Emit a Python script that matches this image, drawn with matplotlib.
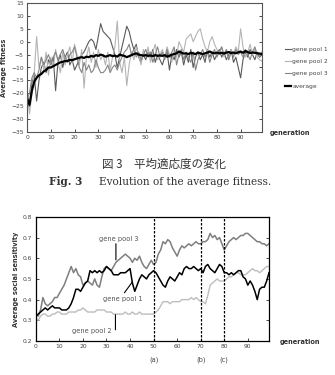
import numpy as np
import matplotlib
matplotlib.use("Agg")
import matplotlib.pyplot as plt
import matplotlib.transforms as mtransforms

# ---- Fig. 3 data: average fitness per generation ----
fit_pool1 = [
    -20, -25, -16, -13, -23, -15, -10, -8, -12, -7,
    -9, -6, -19, -8, -5, -10, -6, -4, -9, -7,
    -11, -9, -7, -5, -4, -2, 0, 1, 0, -3,
    2, 7, 4, 3, 2, 1, -2, -5, -10, -6,
    -2, 2, 6, 4, 0, -3, -1, -6, -8, -5,
    -7, -4, -6, -3, -8, -5, -7, -9, -6, -4,
    -11, -5, -7, -3, -6, -4, -9, -5, -8, -3,
    -10, -6, -4, -7, -5, -8, -3, -6, -4, -7,
    -5, -3, -6, -4, -7, -5, -3, -8, -6, -10,
    -14, -7, -4, -6, -3, -5, -7, -4, -6, -5,
]
fit_pool2 = [
    -19, -28, -20, -12, 2, -10, -6, -11, -4, -13,
    -6, -10, -3, -8, -12, -4, -9, -5, -2, -8,
    -1, -5, -9, -3, -18, -6, -2, -8, -4, -10,
    -3, -7, -5, -9, -4, -11, -6, -2, 8, -8,
    -12, -6, -17, -9, -4, -7, -2, -5, -9, -3,
    -6, -2, -8, -4, -1, -7, -5, -3, -6, -2,
    -5, -8, -3, -6, 0, -2, -4, 1, 2, 3,
    0, 2, 4, 5, 1, -2, -4, 0, 2, -1,
    -3, -5, -2, -6, -4, -7, -3, -5, -2, -4,
    5, -2, -6, -4, -1, -5, -3, -6, -7, -7.5,
]
fit_pool3 = [
    -22, -20, -14, -12, -14, -11, -6, -9, -7, -5,
    -8, -6, -4, -7, -5, -3, -6, -8, -5, -4,
    -2, -6, -10, -12, -8, -11, -9, -12, -11, -7,
    -10, -12, -12, -11, -9, -12, -10, -9, -11, -8,
    -6, -4, -3, -1, -5, -3, -6, -4, -7, -5,
    -3, -6, -4, -8, -5, -2, -6, -4, -7, -3,
    -6, -4, -2, -9, -5, -3, -7, -4, -6, -8,
    -4, -11, -7, -5, -3, -6, -4, -8, -5, -3,
    -6, -4, -2, -5, -3, -7, -4, -6, -3, -5,
    -4, -6, -3, -5, -7, -4, -2, -5, -6, -4,
]
fit_avg = [
    -22, -24.5, -19, -15.5, -14, -13, -12.5, -11.5, -11, -10,
    -10, -9.5, -9, -8.5, -8, -7.8, -7.5, -7.5, -7, -7.2,
    -6.8, -6.5, -6.2, -6, -6.3, -5.8, -6, -5.5, -5.8, -5.2,
    -5.5, -5, -5.3, -5.8, -5.5, -5.2, -5.6, -5.4, -5.8, -5,
    -5.3, -5.5, -6, -5.6, -5.2, -4.8, -4.5, -5, -5.2, -5.4,
    -5.2, -5.5, -5.3, -5.6, -5.2, -5.5, -5.3, -5.5, -5.2, -5.8,
    -5.5, -5, -4.8, -4.5, -3.8, -4.2, -4.6, -4.5, -4.8, -4.3,
    -4.5, -4.8, -4.2, -4.5, -4.8, -4.5, -4.2, -3.8, -4.3, -4.5,
    -4.2, -4.5, -4.3, -4.6, -4.2, -4, -4.4, -4.2, -4.5, -4.1,
    -3.8, -4.3, -3.6, -4, -4.4, -4.2, -4.3, -4.5, -4.6, -4.8,
]

# ---- Fig. 4 data: average social sensitivity ----
sens_pool1 = [
    .32, .33, .34, .35, .36, .35, .36, .37, .36, .36,
    .36, .35, .35, .35, .36, .38, .41, .45, .45, .44,
    .46, .48, .49, .54, .53, .54, .53, .54, .53, .54,
    .56, .55, .54, .52, .52, .52, .53, .53, .53, .54,
    .55, .48, .44, .47, .50, .52, .51, .50, .52, .53,
    .54, .53, .51, .49, .47, .46, .49, .51, .50, .49,
    .51, .53, .52, .55, .56, .55, .55, .56, .55, .54,
    .55, .53, .56, .57, .55, .54, .53, .55, .57, .56,
    .53, .53, .52, .53, .52, .53, .54, .54, .51, .50,
    .47, .49, .47, .44, .40, .45, .46, .46, .49, .53,
]
sens_pool2 = [
    .31, .30, .32, .33, .33, .32, .32, .33, .33, .34,
    .34, .33, .33, .33, .34, .34, .34, .34, .35, .35,
    .36, .35, .34, .34, .34, .34, .35, .35, .35, .35,
    .34, .34, .34, .33, .33, .33, .33, .33, .34, .33,
    .33, .34, .33, .33, .34, .33, .33, .33, .33, .33,
    .33, .34, .35, .37, .39, .39, .39, .38, .39, .39,
    .39, .39, .40, .40, .40, .40, .41, .40, .41, .40,
    .39, .39, .38, .42, .47, .48, .49, .50, .49, .49,
    .49, .50, .51, .51, .52, .53, .53, .52, .52, .52,
    .53, .54, .55, .54, .54, .53, .54, .55, .56, .56,
]
sens_pool3 = [
    .33, .32, .35, .41, .38, .37, .38, .39, .41, .41,
    .43, .45, .47, .50, .53, .56, .53, .55, .52, .51,
    .47, .48, .49, .48, .47, .50, .47, .46, .51, .55,
    .56, .55, .54, .56, .58, .59, .60, .61, .62, .61,
    .60, .58, .60, .59, .61, .58, .56, .55, .57, .59,
    .57, .58, .62, .64, .68, .67, .69, .68, .65, .63,
    .61, .64, .66, .65, .66, .67, .66, .67, .68, .67,
    .67, .68, .68, .69, .72, .70, .71, .69, .70, .67,
    .64, .66, .68, .69, .70, .69, .70, .71, .71, .72,
    .72, .71, .70, .69, .68, .68, .67, .67, .66, .67,
]
phase_gens = [50, 70, 80]
phase_labels = ["(a)", "(b)", "(c)"]

gens = np.arange(len(fit_avg))
tick_kw = dict(labelsize=4.3, labelcolor="#444444", direction="in",
               length=2, width=0.5, pad=2.5)

fig = plt.figure(figsize=(3.35, 3.75), dpi=100)

# ---------------- top chart ----------------
ax1 = fig.add_axes([0.081, 0.648, 0.701, 0.344])
ax1.plot(gens, fit_pool1, color="#5a5a5a", lw=0.8, label="gene pool 1")
ax1.plot(gens, fit_pool2, color="#b4b4b4", lw=0.8, label="gene pool 2")
ax1.plot(gens, fit_pool3, color="#858585", lw=0.8, label="gene pool 3")
ax1.plot(gens, fit_avg, color="black", lw=1.6, label="average")
ax1.set_xlim(0, 99)
ax1.set_ylim(-35, 15)
ax1.set_xticks(range(0, 100, 10))
ax1.set_yticks(range(-35, 16, 5))
ax1.tick_params(axis="both", right=True, **tick_kw)
for s in ax1.spines.values():
    s.set_color("#555555")
    s.set_linewidth(0.8)
ax1.set_ylabel("Average fitness", fontsize=4.8, fontweight="bold",
               color="#333333", labelpad=3)
fig.text(0.805, 0.645, "generation", fontsize=4.8, fontweight="bold",
         color="#333333", ha="left", va="center")
fig.legend(loc="upper left", bbox_to_anchor=(0.835, 0.89), frameon=False,
           fontsize=4.3, handlelength=1.0, handletextpad=0.2,
           labelspacing=1.2, labelcolor="#444444")

# ---------------- captions ----------------
fig.text(0.49, 0.563, "図 3　平均適応度の変化", fontsize=8.3,
         family=["Noto Sans CJK JP", "DejaVu Sans"], color="#333333",
         ha="center", va="center")
fig.text(0.147, 0.515, "Fig. 3", fontsize=7.6, family="DejaVu Serif",
         fontweight="bold", color="#333333", ha="left", va="center")
fig.text(0.296, 0.515, "Evolution of the average fitness.", fontsize=7.6,
         family="DejaVu Serif", color="#333333", ha="left", va="center")

# ---------------- bottom chart ----------------
ax2 = fig.add_axes([0.107, 0.0907, 0.696, 0.331])
ax2.plot(gens, sens_pool2, color="#bdbdbd", lw=1.0)
ax2.plot(gens, sens_pool3, color="#7f7f7f", lw=1.1)
ax2.plot(gens, sens_pool1, color="black", lw=1.1)
for g in phase_gens:
    ax2.axvline(g, color="black", lw=0.9, ls=(0, (2, 1.2)))
ax2.set_xlim(0, 99)
ax2.set_ylim(0.2, 0.8)
ax2.set_xticks(range(0, 100, 10))
ax2.set_yticks(np.arange(0.2, 0.81, 0.1))
ax2.set_yticklabels([f"{v:.1f}" for v in np.arange(0.2, 0.81, 0.1)])
ax2.tick_params(axis="both", right=True, **tick_kw)
for s in ax2.spines.values():
    s.set_color("black")
    s.set_linewidth(0.9)
ax2.set_ylabel("Average social sensitivity", fontsize=4.8, fontweight="bold",
               color="#333333", labelpad=3)
fig.text(0.835, 0.088, "generation", fontsize=4.8, fontweight="bold",
         color="#333333", ha="left", va="center")
trans = mtransforms.blended_transform_factory(ax2.transData, fig.transFigure)
for g, lab in zip(phase_gens, phase_labels):
    ax2.text(g, 0.04, lab, transform=trans, fontsize=4.8, color="#444444",
             ha="center", va="center")

# labels and leader lines
lbl_kw = dict(fontsize=4.8, color="#555555", ha="center", va="center")
lead_kw = dict(arrowprops=dict(arrowstyle="-", color="black", lw=0.8,
                               shrinkA=0, shrinkB=0))
ax2.text(35, 0.694, "gene pool 3", **lbl_kw)
ax2.annotate("", xy=(34, 0.592), xytext=(34, 0.67), **lead_kw)
ax2.text(37, 0.404, "gene pool 1", **lbl_kw)
ax2.annotate("", xy=(41, 0.486), xytext=(37.6, 0.433), **lead_kw)
ax2.text(23.7, 0.249, "gene pool 2", **lbl_kw)
ax2.annotate("", xy=(33.8, 0.327), xytext=(33.8, 0.254), **lead_kw)

fig.savefig("out.png", dpi=100)
